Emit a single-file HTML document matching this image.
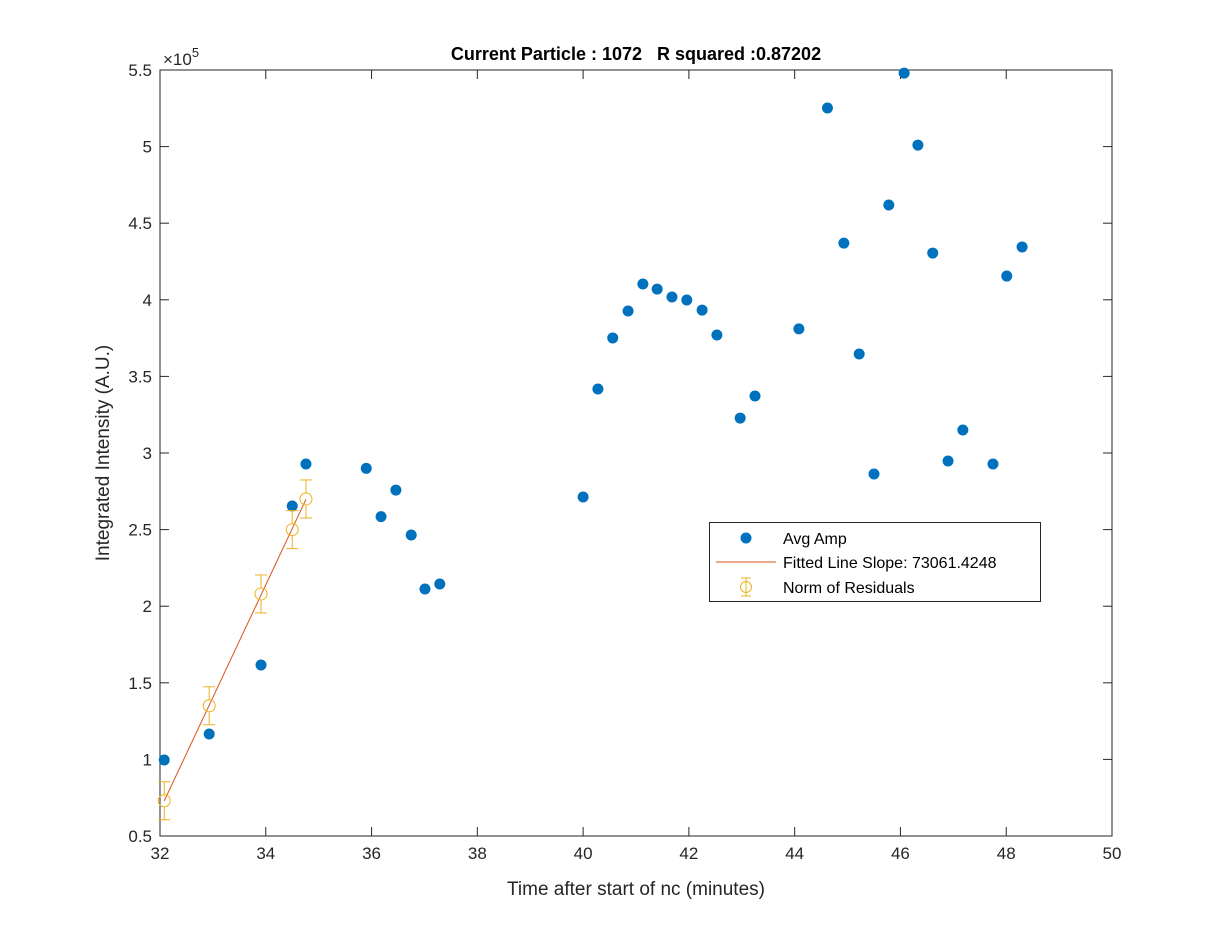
<!DOCTYPE html>
<html><head><meta charset="utf-8"><style>
body{margin:0;background:#fff}
svg{display:block;font-family:"Liberation Sans",Arial,sans-serif}
.pre{white-space:pre}
</style></head><body>
<svg id="chart" width="1230" height="939" viewBox="0 0 1230 939">
<rect width="1230" height="939" fill="#fff"/>
<g id="plot"></g>
</svg>
<script>
const xs=[32.08,32.93,33.91,34.5,34.76,35.9,36.18,36.46,36.75,37.01,37.29,40.0,40.28,40.56,40.85,41.13,41.4,41.68,41.96,42.25,42.53,42.97,43.25,44.08,44.62,44.93,45.22,45.5,45.78,46.07,46.33,46.61,46.9,47.18,47.75,48.01,48.3];
const ys=[0.996,1.166,1.616,2.654,2.928,2.90,2.585,2.758,2.465,2.112,2.145,2.713,3.418,3.751,3.927,4.103,4.07,4.018,3.999,3.933,3.77,3.228,3.372,3.81,5.252,4.37,3.646,2.863,4.619,5.48,5.01,4.305,2.948,3.15,2.928,4.155,4.345];
const fitX=[32.08,32.93,33.91,34.5,34.76];
const fitY=[0.73,1.35,2.08,2.5,2.7];
const fitErr=[0.124,0.124,0.124,0.124,0.124];
const xTicks=[32,34,36,38,40,42,44,46,48,50];
const yTicks=[0.5,1,1.5,2,2.5,3,3.5,4,4.5,5,5.5];
const L=160,R=1112,T=70,B=836;
const X=v=>L+(v-32)/18*(R-L);
const Y=v=>B-(v-0.5)/5*(B-T);
const NS='http://www.w3.org/2000/svg';
const g=document.getElementById('plot');
function mk(t,a,p){const e=document.createElementNS(NS,t);for(const k in a)e.setAttribute(k,a[k]);(p||g).appendChild(e);return e;}
let e=mk('rect',{x:L,y:T,width:R-L,height:B-T,fill:'none',stroke:'#262626','stroke-width':1});


xTicks.forEach(v=>{
 mk('line',{x1:X(v),x2:X(v),y1:B,y2:B-9,stroke:'#262626'});
 mk('line',{x1:X(v),x2:X(v),y1:T,y2:T+9,stroke:'#262626'});
 const t=mk('text',{x:X(v),y:B+23,'text-anchor':'middle','font-size':17,fill:'#262626'});t.textContent=v;
 
 
});
yTicks.forEach(v=>{
 mk('line',{x1:L,x2:L+9,y1:Y(v),y2:Y(v),stroke:'#262626'});
 mk('line',{x1:R,x2:R-9,y1:Y(v),y2:Y(v),stroke:'#262626'});
 const t=mk('text',{x:L-8,y:Y(v)+6,'text-anchor':'end','font-size':17,fill:'#262626'});t.textContent=v;
 
 
});
const n=fitX.length;let mx=0,my=0;for(let i=0;i<n;i++){mx+=fitX[i];my+=fitY[i];}mx/=n;my/=n;
let sxy=0,sxx=0;for(let i=0;i<n;i++){sxy+=(fitX[i]-mx)*(fitY[i]-my);sxx+=(fitX[i]-mx)**2;}
const sl=sxy/sxx,ic=my-sl*mx;
e=mk('line',{x1:X(fitX[0]),y1:Y(ic+sl*fitX[0]),x2:X(fitX[n-1]),y2:Y(ic+sl*fitX[n-1]),stroke:'#D95319','stroke-width':1});


xs.forEach((v,i)=>{
 const c=mk('circle',{cx:X(v),cy:Y(ys[i]),r:5.5,fill:'#0072BD'});
 
 
});
fitX.forEach((v,i)=>{
 const x=X(v),y1=Y(fitY[i]+fitErr[i]),y2=Y(fitY[i]-fitErr[i]);
 const gg=mk('g',{stroke:'#EDB120',fill:'none','stroke-width':1});
 
 
 mk('line',{x1:x,x2:x,y1:y1,y2:Y(fitY[i])-6},gg);
 mk('line',{x1:x,x2:x,y1:Y(fitY[i])+6,y2:y2},gg);
 mk('line',{x1:x-6,x2:x+6,y1:y1,y2:y1},gg);
 mk('line',{x1:x-6,x2:x+6,y1:y2,y2:y2},gg);
 mk('circle',{cx:x,cy:Y(fitY[i]),r:6},gg);
});
</script>
<svg width="1230" height="939" style="position:absolute;left:0;top:0" font-family="Liberation Sans, Arial, sans-serif">
<text class="pre" x="636" y="60" text-anchor="middle" font-size="18" font-weight="bold" fill="#000">Current Particle : 1072   R squared :0.87202</text>
<text x="163" y="65" font-size="17" fill="#262626">×10<tspan dy="-8" font-size="13">5</tspan></text>
<text x="636" y="895" text-anchor="middle" font-size="19" fill="#262626">Time after start of nc (minutes)</text>
<text transform="translate(109,453) rotate(-90)" text-anchor="middle" font-size="19" fill="#262626">Integrated Intensity (A.U.)</text>
<g>
<rect x="709.5" y="522.5" width="331" height="79" fill="#fff" stroke="#262626"/>
<circle cx="746" cy="538" r="5.5" fill="#0072BD"/>
<text x="783" y="544" font-size="16" fill="#000">Avg Amp</text>
<line x1="716" y1="562" x2="776" y2="562" stroke="#D95319"/>
<text x="783" y="568" font-size="16" fill="#000">Fitted Line Slope: 73061.4248</text>
<g stroke="#EDB120" fill="none"><line x1="746" y1="578" x2="746" y2="596"/><line x1="741" y1="578" x2="751" y2="578"/><line x1="741" y1="596" x2="751" y2="596"/><circle cx="746" cy="587" r="5.5"/></g>
<text x="783" y="593" font-size="16" fill="#000">Norm of Residuals</text>
</g>
</svg>
</body></html>
